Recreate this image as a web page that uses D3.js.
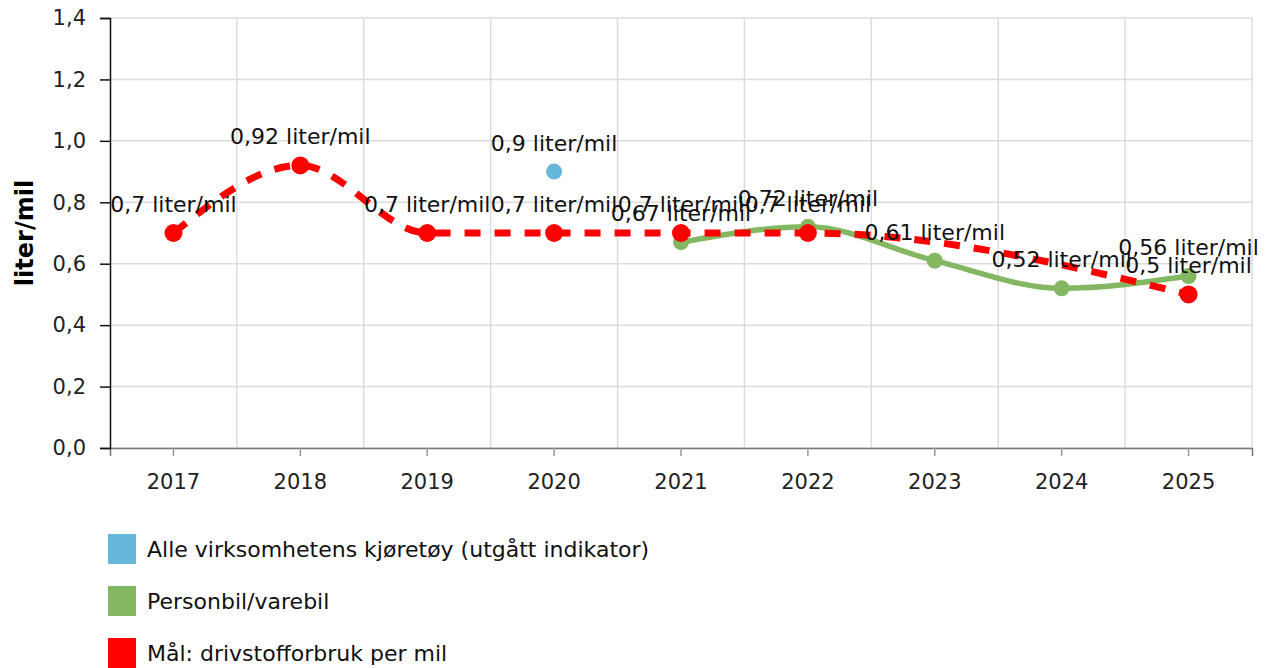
<!DOCTYPE html>
<html>
<head>
<meta charset="utf-8">
<script src="https://cdn.jsdelivr.net/npm/d3@7"></script>
<style>
  body { margin: 0; background: #fff; }
  svg { font-family: "DejaVu Sans", Verdana, sans-serif; }
</style>
</head>
<body>
<div id="chart"></div>
<script>
// ---- data ----
const years = ["2017", "2018", "2019", "2020", "2021", "2022", "2023", "2024", "2025"];
const alleKjoretoy = [null, null, null, 0.9, null, null, null, null, null];
const personbil = [null, null, null, null, 0.67, 0.72, 0.61, 0.52, 0.56];
const maal = [0.7, 0.92, 0.7, 0.7, 0.7, 0.7, null, null, 0.5];
const yTicks = [0, 0.2, 0.4, 0.6, 0.8, 1.0, 1.2, 1.4];
const seriesNames = ["Alle virksomhetens kjøretøy (utgått indikator)", "Personbil/varebil", "Mål: drivstofforbruk per mil"];
const seriesColors = ["#67b7dc", "#84b761", "#ff0000"];

const W = 1271, H = 668;
const margin = { top: 18, right: 19, bottom: 220, left: 110 };
const width = W - margin.left - margin.right,
    height = H - margin.top - margin.bottom;

const svg = d3.select("#chart").append("svg")
    .attr("width", W)
    .attr("height", H);

const g = svg.append("g")
    .attr("transform", "translate(" + margin.left + "," + margin.top + ")");

// ---- scales ----
const xScale = d3.scaleBand().domain(years).range([0, width]).padding(0);
const yScale = d3.scaleLinear().domain([0, 1.4]).range([height, 0]);
const cx = d => xScale(d) + xScale.bandwidth() / 2;
const fmt = v => String(v).replace(".", ",");

// ---- grid ----
g.append("g").selectAll("line")
    .data(yTicks)
    .enter().append("line")
    .attr("x1", 0).attr("x2", width)
    .attr("y1", d => yScale(d)).attr("y2", d => yScale(d))
    .attr("stroke", "#dcdcdc").attr("stroke-width", 1.5);

g.append("g").selectAll("line")
    .data(years.slice(1).concat(["end"]))
    .enter().append("line")
    .attr("x1", (d, i) => xScale.step() * (i + 1))
    .attr("x2", (d, i) => xScale.step() * (i + 1))
    .attr("y1", 0).attr("y2", height)
    .attr("stroke", "#dcdcdc").attr("stroke-width", 1.5);

// ---- axes ----
const xAxis = g.append("g")
    .attr("transform", "translate(0," + height + ")")
    .call(d3.axisBottom(xScale).tickSize(8).tickPadding(18));
xAxis.select(".domain").attr("stroke", "#777").attr("stroke-width", 1.5);
xAxis.selectAll(".tick line").attr("stroke", "#999").attr("stroke-width", 1.5);
xAxis.selectAll("text").attr("font-size", 21).attr("fill", "#222")
    .style("font-family", "DejaVu Sans, Verdana, sans-serif");

const yAxis = g.append("g")
    .call(d3.axisLeft(yScale).tickValues(yTicks).tickSize(10).tickPadding(14)
        .tickFormat(d => d3.format(".1f")(d).replace(".", ",")));
yAxis.select(".domain").attr("stroke", "#111").attr("stroke-width", 1.5);
yAxis.selectAll(".tick line").attr("stroke", "#111").attr("stroke-width", 1.5);
yAxis.selectAll("text").attr("font-size", 21).attr("fill", "#222")
    .style("font-family", "DejaVu Sans, Verdana, sans-serif");

svg.append("text")
    .attr("transform", "translate(33," + (margin.top + height / 2) + ") rotate(-90)")
    .attr("text-anchor", "middle")
    .attr("font-size", 24)
    .attr("font-weight", "bold")
    .text("liter/mil");

// ---- series ----
const toPts = arr => years.map((y, i) => ({ year: y, value: arr[i] })).filter(d => d.value !== null);
const line = d3.line()
    .x(d => cx(d.year))
    .y(d => yScale(d.value))
    .curve(d3.curveMonotoneX);

const series = [
    { pts: toPts(alleKjoretoy), color: seriesColors[0], r: 8, width: 5, dash: null },
    { pts: toPts(personbil), color: seriesColors[1], r: 8, width: 5.5, dash: null },
    { pts: toPts(maal), color: seriesColors[2], r: 9, width: 7, dash: "16,14" }
];

series.forEach(s => {
    if (s.pts.length > 1) {
        g.append("path")
            .datum(s.pts)
            .attr("fill", "none")
            .attr("stroke", s.color)
            .attr("stroke-width", s.width)
            .attr("stroke-dasharray", s.dash)
            .attr("d", line);
    }
    g.append("g").selectAll("circle")
        .data(s.pts)
        .enter().append("circle")
        .attr("cx", d => cx(d.year))
        .attr("cy", d => yScale(d.value))
        .attr("r", s.r)
        .attr("fill", s.color);
});

// ---- data labels ----
series.forEach(s => {
    g.append("g").selectAll("text")
        .data(s.pts)
        .enter().append("text")
        .attr("x", d => cx(d.year))
        .attr("y", d => yScale(d.value) - 21)
        .attr("text-anchor", "middle")
        .attr("font-size", 22)
        .attr("fill", "#111")
        .text(d => fmt(d.value) + " liter/mil");
});

// ---- legend ----
const legend = svg.append("g").attr("transform", "translate(108,534)");
const items = legend.selectAll("g")
    .data(seriesNames)
    .enter().append("g")
    .attr("transform", (d, i) => "translate(0," + (i * 52) + ")");
items.append("rect")
    .attr("width", 28).attr("height", 30)
    .attr("fill", (d, i) => seriesColors[i]);
items.append("text")
    .attr("x", 39).attr("y", 23)
    .attr("font-size", 22)
    .attr("fill", "#111")
    .text(d => d);
</script>
</body>
</html>
